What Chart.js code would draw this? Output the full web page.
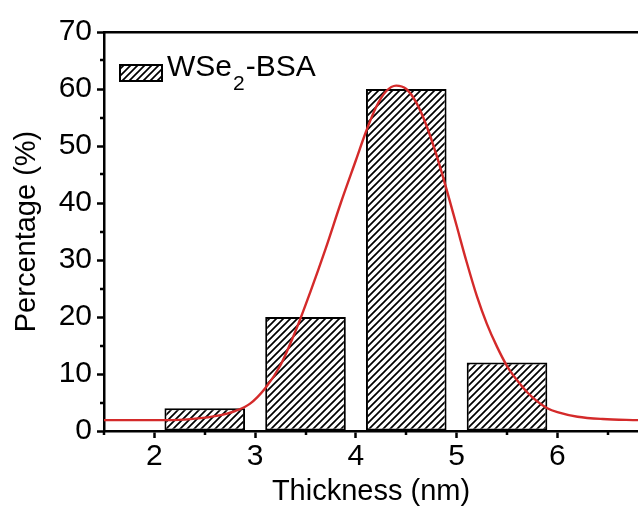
<!DOCTYPE html>
<html>
<head>
<meta charset="utf-8">
<script src="https://cdn.jsdelivr.net/npm/chart.js@4/dist/chart.umd.min.js"></script>
<style>
  html, body { margin: 0; padding: 0; background: #fff; }
</style>
</head>
<body>
<canvas id="thicknessChart" width="638" height="509"></canvas>
<script>
// histogram bins (nm) and their share (%)
var binCenters = [2.5, 3.5, 4.5, 5.5];
var binPercent = [4, 20, 60, 12];

// gaussian fit curve
var fitX = [1.5, 2.0, 2.3, 2.6, 2.8, 2.95, 3.1, 3.25, 3.4, 3.55, 3.7, 3.85, 4.0, 4.1, 4.2, 4.3, 4.4, 4.5, 4.6, 4.7, 4.8, 4.9, 5.0, 5.1, 5.2, 5.3, 5.4, 5.5, 5.6, 5.7, 5.8, 5.9, 6.0, 6.2, 6.45, 6.8];
var fitY = [1.9, 1.9, 2.0, 2.6, 3.5, 4.8, 7.5, 11.5, 17.5, 24.5, 32.0, 40.0, 47.5, 52.5, 56.8, 59.6, 60.6, 60.0, 57.6, 53.6, 48.4, 42.4, 36.0, 29.6, 23.7, 18.8, 14.8, 11.4, 8.9, 6.8, 5.2, 4.0, 3.3, 2.5, 2.1, 1.9];

var xTicks = [2, 3, 4, 5, 6];
var xMinorTicks = [1.5, 2.5, 3.5, 4.5, 5.5, 6.5];
var yTicks = [0, 10, 20, 30, 40, 50, 60, 70];
var yMinorTicks = [5, 15, 25, 35, 45, 55, 65];

var seriesName = ["WSe", "2", "-BSA"];
var xTitle = "Thickness (nm)";
var yTitle = "Percentage (%)";

var FONT = "'Liberation Sans', Arial, sans-serif";

function makeHatch(ctx) {
    var p = document.createElement("canvas");
    p.width = 7;
    p.height = 7;
    var g = p.getContext("2d");
    g.fillStyle = "#fff";
    g.fillRect(0, 0, 7, 7);
    g.strokeStyle = "#000";
    g.lineWidth = 1.7;
    g.beginPath();
    g.moveTo(-1, 8); g.lineTo(8, -1);
    g.moveTo(-1, 1); g.lineTo(1, -1);
    g.moveTo(6, 8); g.lineTo(8, 6);
    g.stroke();
    return ctx.createPattern(p, "repeat");
}

var canvas = document.getElementById("thicknessChart");
var hatchFill = makeHatch(canvas.getContext("2d"));

// small ticks between the labelled ones
var minorTicks = {
    id: "minorTicks",
    afterDraw: function (chart) {
        var ctx = chart.ctx;
        var xs = chart.scales.x, ys = chart.scales.y;
        ctx.save();
        ctx.strokeStyle = "#000";
        ctx.lineWidth = 2.5;
        ctx.beginPath();
        for (let v of yMinorTicks) {
            var py = Math.round(ys.getPixelForValue(v));
            ctx.moveTo(ys.right - 4, py);
            ctx.lineTo(ys.right, py);
        }
        for (let v of xMinorTicks) {
            var px = Math.round(xs.getPixelForValue(v));
            ctx.moveTo(px, xs.top);
            ctx.lineTo(px, xs.top + 4);
        }
        ctx.stroke();
        ctx.restore();
    }
};

// legend with subscript, inside the plot
var insideLegend = {
    id: "insideLegend",
    afterDraw: function (chart) {
        var ctx = chart.ctx, a = chart.chartArea;
        var bx = a.left + 16, by = a.top + 33;
        ctx.save();
        ctx.fillStyle = hatchFill;
        ctx.fillRect(bx, by, 42, 16);
        ctx.strokeStyle = "#000";
        ctx.lineWidth = 2;
        ctx.strokeRect(bx, by, 42, 16);
        ctx.fillStyle = "#000";
        ctx.textBaseline = "alphabetic";
        var tx = bx + 47, ty = a.top + 44;
        ctx.font = "30px " + FONT;
        ctx.fillText(seriesName[0], tx, ty);
        tx += ctx.measureText(seriesName[0]).width + 1;
        ctx.font = "21px " + FONT;
        ctx.fillText(seriesName[1], tx, ty + 14);
        tx += ctx.measureText(seriesName[1]).width + 1;
        ctx.font = "30px " + FONT;
        ctx.fillText(seriesName[2], tx, ty);
        ctx.restore();
    }
};

var barData = binCenters.map(function (c, i) { return { x: c, y: binPercent[i] }; });
var fitData = fitX.map(function (x, i) { return { x: x, y: fitY[i] }; });

new Chart(canvas, {
    type: "bar",
    data: {
        datasets: [{
            type: "line",
            label: "fit",
            data: fitData,
            borderColor: "#d42a2a",
            borderWidth: 2.4,
            pointRadius: 0,
            fill: false,
            cubicInterpolationMode: "monotone",
            order: 0
        }, {
            label: "WSe2-BSA",
            data: barData,
            backgroundColor: hatchFill,
            borderColor: "#000",
            borderWidth: 2,
            borderSkipped: false,
            barPercentage: 0.8,
            categoryPercentage: 1.0,
            order: 1
        }]
    },
    options: {
        responsive: false,
        animation: false,
        layout: { padding: { top: 32, left: 0, right: 0, bottom: 0 } },
        plugins: { legend: { display: false }, tooltip: { enabled: false } },
        scales: {
            x: {
                type: "linear",
                min: 1.5,
                max: 6.8,
                offset: false,
                afterBuildTicks: function (s) { s.ticks = xTicks.map(function (v) { return { value: v }; }); },
                afterFit: function (s) { s.height = 78; },
                grid: { drawOnChartArea: false, offset: false, tickLength: 7, tickWidth: 2.5, color: "#000" },
                border: { color: "#000", width: 2.5 },
                ticks: { color: "#000", font: { size: 30, family: FONT }, padding: 1, maxRotation: 0 },
                title: { display: true, text: xTitle, color: "#000", font: { size: 29, family: FONT }, padding: { top: 0, bottom: 0 } }
            },
            x2: {
                type: "linear",
                position: "top",
                min: 1.5,
                max: 6.8,
                afterFit: function (s) { s.height = 0; },
                grid: { drawOnChartArea: false, drawTicks: false },
                border: { color: "#000", width: 2.5 },
                ticks: { display: false }
            },
            y: {
                min: 0,
                max: 70,
                afterBuildTicks: function (s) { s.ticks = yTicks.map(function (v) { return { value: v }; }); },
                afterFit: function (s) { s.width = 104; },
                grid: { drawOnChartArea: false, tickLength: 7, tickWidth: 2.5, color: "#000" },
                border: { color: "#000", width: 2.5 },
                ticks: { color: "#000", font: { size: 30, family: FONT }, padding: 5 },
                title: { display: true, text: yTitle, color: "#000", font: { size: 29, family: FONT }, padding: { top: 10, bottom: 0 } }
            }
        }
    },
    plugins: [minorTicks, insideLegend]
});
</script>
</body>
</html>
